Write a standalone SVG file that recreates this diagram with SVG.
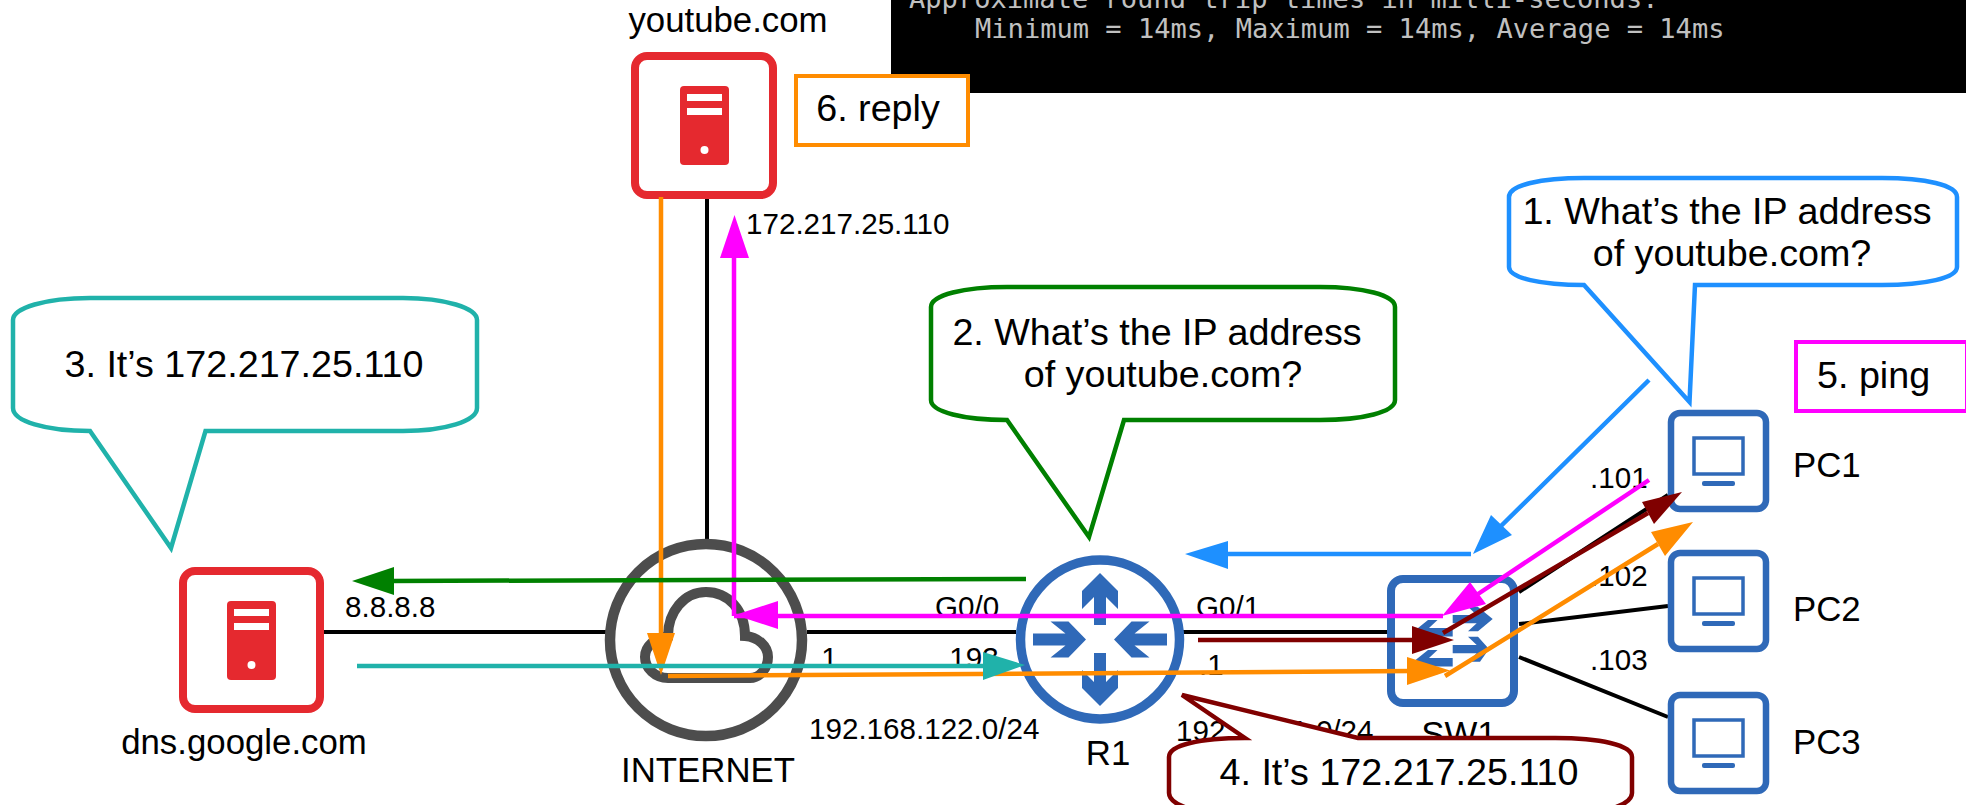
<svg xmlns="http://www.w3.org/2000/svg" width="1966" height="805" viewBox="0 0 1966 805">
<style>
text{font-family:"Liberation Sans",Arial,sans-serif;fill:#000}
.s{font-size:29.6px}.m{font-size:34.8px}.l{font-size:37.7px}
.c{text-anchor:middle}
.term{font-family:"DejaVu Sans Mono","Liberation Mono",monospace;font-size:27.07px;fill:#c0c0c0}
.box{fill:#fff;stroke-width:8}
.red{stroke:#e5292f}.blue{stroke:#2f69b8}
.fr{fill:#e5292f}.fb{fill:#2f69b8}
.link{stroke:#000;stroke-width:4;fill:none}
.call{fill:#fff;stroke-width:4.5;stroke-linejoin:miter}
.a{fill:none;stroke-width:4.5}
</style>
<defs>
<g id="srv"><rect x="0" y="0" width="49" height="79" rx="4" class="fr"/><rect x="7" y="8" width="35" height="7" fill="#fff"/><rect x="7" y="22" width="35" height="7" fill="#fff"/><circle cx="24.5" cy="64" r="4" fill="#fff"/></g>
<g id="pc"><rect x="4" y="3" width="95" height="96" rx="9" class="box blue" style="stroke-width:6.5"/><rect x="27" y="28" width="49" height="36" fill="none" class="blue" stroke-width="3.500"/><rect x="35" y="71" width="33" height="5" rx="2" class="fb"/></g>
</defs>
<rect id="terminal" x="891" y="0" width="1075" height="93" fill="#000"/>
<text class="term" x="909" y="8">Approximate round trip times in milli-seconds:</text>
<text class="term" x="975" y="38">Minimum = 14ms, Maximum = 14ms, Average = 14ms</text>
<g id="links">
<path class="link" d="M324 632H606M807 632H1016M1180 632H1390M707 199V540M1519 592L1668 495M1519 624L1668 606M1519 657L1668 717"/>
</g>
<g id="youtube"><rect class="box red" x="635" y="56" width="138" height="139" rx="12"/><use href="#srv" x="680" y="86"/><text class="m c" x="728" y="32">youtube.com</text></g>
<g id="dns"><rect class="box red" x="183" y="571" width="137" height="138" rx="12"/><use href="#srv" x="227" y="601"/><text class="m c" x="244" y="754">dns.google.com</text></g>
<g id="internet"><circle cx="706" cy="640" r="96" fill="#fff" stroke="#4d4d4d" stroke-width="10.500"/><path d="M668 678H750C760 678 768 668 768 657C768 646 758 637 745 636C745 610 728 592 706 592C684 592 668 612 668 636C655 638 645 646 645 657C645 668 655 678 668 678Z" fill="#fff" stroke="#4d4d4d" stroke-width="10"/><text class="m c" x="708" y="782">INTERNET</text></g>
<g id="r1"><circle cx="1100" cy="639.5" r="79.5" fill="#fff" class="blue" stroke-width="9.500"/><path class="fb" d="M1100 573L1118 591V609L1106 597V625H1094V597L1082 609V591ZM1100 706L1118 688V670L1106 682V653H1094V682L1082 670V688ZM1086 639.500L1068.500 657.500H1050.500L1065.500 645.500H1033V633.500H1065.500L1050.500 621.500H1068.500ZM1114 639.500L1131.500 657.500H1149.500L1134.500 645.500H1167V633.500H1134.500L1149.500 621.500H1131.500Z"/><text class="m c" x="1108" y="765">R1</text></g>
<g id="sw1"><rect class="box blue" x="1391" y="579" width="123" height="124" rx="12"/><path class="fb" d="M1492.700 619L1477.700 606.700H1468L1476.700 615H1452.700V623.300H1476.700L1468 631.300H1478ZM1489 649L1478 636.700H1468L1476.700 645H1452.700V653.300H1476.700L1468 661.700H1480ZM1413 632L1428 620H1437.500L1429 628H1452.700V636.500H1429L1437.500 644.500H1427ZM1413 662L1428 650H1437.500L1429 658H1452.700V666.500H1429L1437.500 674.500H1427Z"/><text class="m c" x="1459" y="746">SW1</text></g>
<g id="pc1"><use href="#pc" x="1667" y="410"/><text class="m" x="1793" y="477">PC1</text></g>
<g id="pc2"><use href="#pc" x="1667" y="550"/><text class="m" x="1793" y="621">PC2</text></g>
<g id="pc3"><use href="#pc" x="1667" y="692"/><text class="m" x="1793" y="754">PC3</text></g>
<g id="labels">
<text class="s" x="746" y="234">172.217.25.110</text>
<text class="s" x="345" y="617">8.8.8.8</text>
<text class="s" x="935" y="617">G0/0</text>
<text class="s" x="1196" y="617">G0/1</text>
<text class="s" x="813" y="668">.1</text>
<text class="s" x="941" y="668">.193</text>
<text class="s" x="1199" y="675">.1</text>
<text class="s" x="809" y="739">192.168.122.0/24</text>
<text class="s" x="1176" y="741">192.168.1.0/24</text>
<text class="s" x="1590" y="488">.101</text>
<text class="s" x="1590" y="586">.102</text>
<text class="s" x="1590" y="670">.103</text>
</g>
<g id="connectors">
<path class="a" stroke="#ff8c00" d="M661 197V640M668 676L1412 671M1445 676L1658 544"/>
<path fill="#ff8c00" d="M661 675L647 633H675ZM1450 670.500L1407 657V685ZM1693 522L1651 532L1665 556Z"/>
<path class="a" stroke="#f0f" d="M1649 480L1478 594M734 250V616M734 616H1443"/>
<path fill="#f0f" d="M734.500 215L720 258H749ZM735 615L778 601V629ZM1442 616L1470 582L1486 604Z"/>
<path class="a" stroke="#800000" d="M1198 640H1420M1443 633L1648 513"/>
<path fill="#800000" d="M1454 640L1412 626V654ZM1682 492L1642 502L1654 524Z"/>
<path class="a" stroke="#1e90ff" d="M1649 380L1501 526M1471 554H1220"/>
<path fill="#1e90ff" d="M1473 554L1491 515L1512 535ZM1185 554L1228 541V569Z"/>
<path class="a" stroke="#008000" d="M1026 579L390 581"/>
<path fill="#008000" d="M352 581L394 567V595Z"/>
<path class="a" stroke="#20b2aa" d="M357 666H990"/>
<path fill="#20b2aa" d="M1025 665L983 652V680Z"/>
</g>
<g id="reply"><rect x="796" y="76" width="172" height="69" fill="#fff" stroke="#ff8c00" stroke-width="4"/><text class="l c" x="878" y="121">6. reply</text></g>
<g id="ping"><rect x="1796" y="342" width="171" height="69" fill="#fff" stroke="#f0f" stroke-width="4"/><text class="l" x="1817" y="388">5. ping</text></g>
<g id="callout1"><path class="call" stroke="#1e90ff" d="M1584 178H1882C1925 178 1957 185 1957 197V267C1957 278 1925 285 1882 285H1695L1689.500 402L1584 285C1541 285 1509 278 1509 267V197C1509 185 1541 178 1584 178Z"/><text class="l c" x="1727" y="224">1. What’s the IP address</text><text class="l c" x="1732" y="266">of youtube.com?</text></g>
<g id="callout2"><path class="call" stroke="#008000" d="M1007 287H1320C1363 287 1395 295 1395 307V400C1395 412 1363 420 1320 420H1124L1089 537L1007 420C964 420 931 412 931 400V307C931 295 964 287 1007 287Z"/><text class="l c" x="1157" y="345">2. What’s the IP address</text><text class="l c" x="1163" y="387">of youtube.com?</text></g>
<g id="callout3"><path class="call" stroke="#20b2aa" d="M90 298H403C445 298 477 308 477 320V408C477 421 445 431 403 431H205.500L171 548L90 431C45 431 13 421 13 408V320C13 308 45 298 90 298Z"/><text class="l c" x="244" y="377">3. It’s 172.217.25.110</text></g>
<g id="callout4"><path class="call" stroke="#800000" d="M1245 738L1182 695L1358 738H1555C1600 738 1632 745 1632 757V793C1632 806 1600 815 1555 815H1245C1200 815 1169 806 1169 793V757C1169 745 1200 738 1245 738Z"/><text class="l c" x="1399" y="785">4. It’s 172.217.25.110</text></g>
</svg>
